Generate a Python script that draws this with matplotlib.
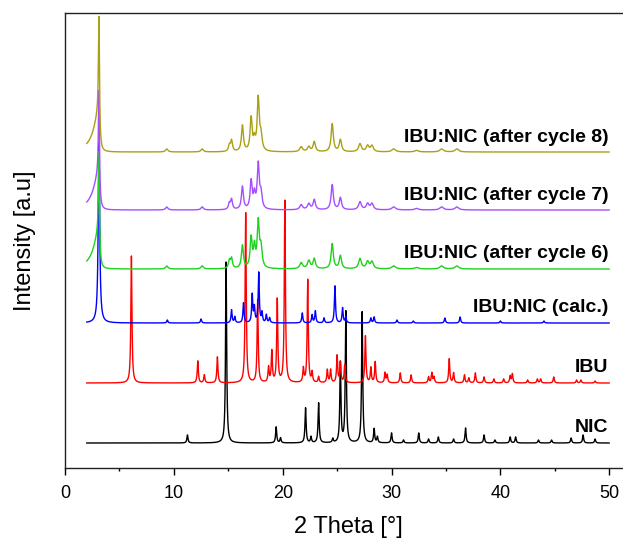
import numpy as np
import matplotlib
matplotlib.use("Agg")
import matplotlib.pyplot as plt

plt.rcParams['font.family'] = ['Liberation Sans', 'DejaVu Sans']

# peak lists: position (2theta), height (a.u.)
nic_pos = [11.25, 14.8, 19.4, 19.8, 22.1, 22.6, 23.3, 24.6, 25.3, 25.8, 27.3,
           28.4, 28.7, 30.0, 31.1, 32.5, 33.4, 34.3, 35.7, 36.8, 38.5, 39.5,
           40.9, 41.4, 43.5, 44.7, 46.5, 47.6, 48.7]
nic_h = [8, 181, 16, 5, 35, 6, 40, 4, 80, 131, 131,
         14, 6, 10, 3, 10, 4, 6, 4, 15, 8, 3,
         6, 6, 3, 3, 5, 8, 4]

ibu_pos = [6.1, 12.2, 12.8, 14.0, 16.6, 17.7, 18.7, 19.0, 19.5, 20.2, 21.9,
           22.3, 22.7, 23.3, 24.1, 24.4, 25.0, 25.3, 25.7, 27.6, 28.1, 28.5,
           29.4, 29.6, 30.8, 31.8, 33.4, 33.7, 33.9, 35.3, 35.7, 36.7, 37.1,
           37.7, 38.5, 39.4, 40.3, 40.9, 41.1, 42.5, 43.4, 43.7, 44.9, 47.0,
           47.4, 48.7]
ibu_h = [127, 22, 8, 26, 170, 83, 15, 31, 83, 182, 14,
         103, 10, 6, 13, 13, 27, 20, 18, 47, 15, 21,
         10, 8, 10, 8, 6, 10, 6, 24, 10, 8, 5,
         10, 6, 4, 4, 7, 9, 3, 4, 4, 6, 3,
         3, 2]

calc_pos = [3.12, 9.4, 12.5, 15.3, 15.6, 16.4, 17.2, 17.4, 17.8, 18.1, 18.5,
            18.8, 21.8, 22.7, 23.0, 23.8, 24.8, 25.5, 25.8, 28.1, 28.4, 30.5,
            32.0, 34.9, 36.3, 40.0, 44.0]
calc_h = [180, 3, 4, 13, 6, 20, 28, 15, 50, 10, 8,
          5, 10, 8, 12, 5, 37, 15, 6, 5, 6, 3,
          2, 5, 6, 2, 2]

# experimental patterns; first entry is the low-angle tail of the 3.1 peak
cyc_pos = [3.1, 3.12, 9.35, 12.6, 15.1, 15.3, 16.3, 17.1, 17.4, 17.75,
           18.0, 21.7, 22.4, 22.9, 24.55, 25.3, 27.1, 27.8, 28.2, 30.2, 32.3,
           34.6, 36.0]
cyc_wl = [1.2, 0.12, 0.25, 0.25, 0.2, 0.2, 0.22, 0.22, 0.2, 0.22,
          0.25, 0.3, 0.3, 0.25, 0.24, 0.25, 0.3, 0.3, 0.3, 0.4, 0.4,
          0.4, 0.4]
cyc_wr = [0.15, 0.12, 0.25, 0.25, 0.2, 0.2, 0.22, 0.22, 0.2, 0.22,
          0.25, 0.3, 0.3, 0.25, 0.24, 0.25, 0.3, 0.3, 0.3, 0.4, 0.4,
          0.4, 0.4]
cyc6_h = [34, 86, 3, 3, 8, 10, 23, 30, 20, 45,
          20, 6, 8, 10, 25, 13, 10, 7, 7, 3, 1.5,
          3, 3]
cyc7_h = [34, 88, 3, 3, 6, 10, 23, 28, 14, 44,
          15, 5, 6, 10, 25, 12, 8, 6, 6, 3, 1.5,
          3, 3]
cyc8_h = [36, 102, 3, 3, 6, 11, 26, 33, 10, 52,
          15, 5, 5, 10, 28, 12, 8, 6, 6, 3, 1.5,
          3, 3]

labels = ['NIC', 'IBU', 'IBU:NIC (calc.)', 'IBU:NIC (after cycle 6)',
          'IBU:NIC (after cycle 7)', 'IBU:NIC (after cycle 8)']
offsets = [25, 85, 145, 199, 258, 316]
colors = ['black', '#ff0000', '#0000ff', '#1ed21e', '#a64dff', '#ab9f14']

two_theta = np.arange(2.0, 50.0, 0.01)


def pattern(pos, heights, wl, wr=None):
    """Sum of (split) Lorentzian peaks on the 2theta grid."""
    if wr is None:
        wr = wl
    y = np.zeros_like(two_theta)
    for p, h, a, b in zip(pos, heights, wl, wr):
        w = np.where(two_theta < p, a, b)
        y += h / (1 + ((two_theta - p) / (w / 2)) ** 2)
    return y


curves = [
    pattern(nic_pos, nic_h, [0.12] * len(nic_pos)),
    pattern(ibu_pos, ibu_h, [0.12] * len(ibu_pos)),
    pattern(calc_pos, calc_h, [0.16] + [0.12] * (len(calc_pos) - 1)),
    pattern(cyc_pos, cyc6_h, cyc_wl, cyc_wr),
    pattern(cyc_pos, cyc7_h, cyc_wl, cyc_wr),
    pattern(cyc_pos, cyc8_h, cyc_wl, cyc_wr),
]

fig = plt.figure(figsize=(6.23, 5.39), dpi=100)
ax = fig.add_axes([65 / 623, 71 / 539, 566 / 623, 455 / 539])

for y, off, c, lab in zip(curves, offsets, colors, labels):
    ax.plot(two_theta, y + off, color=c, lw=1.0)
    ax.text(49.9, off + 15, lab, ha='right', va='center',
            fontsize=14, fontweight='bold')

ax.set_xlim(0, 52)
ax.set_ylim(0, 455)
ax.set_xticks(range(0, 51, 10))
ax.set_xticks(range(5, 51, 10), minor=True)
ax.set_yticks([])
ax.tick_params(axis='x', which='major', direction='out', length=5, width=1,
               labelsize=13, pad=7)
ax.tick_params(axis='x', which='minor', direction='out', length=2.5, width=1)
for s in ax.spines.values():
    s.set_color('#222222')
    s.set_linewidth(1.0)

ax.set_xlabel('2 Theta [°]', fontsize=17, labelpad=10)
ax.set_ylabel('Intensity [a.u]', fontsize=17, labelpad=21)

fig.savefig('out.png', dpi=100)
